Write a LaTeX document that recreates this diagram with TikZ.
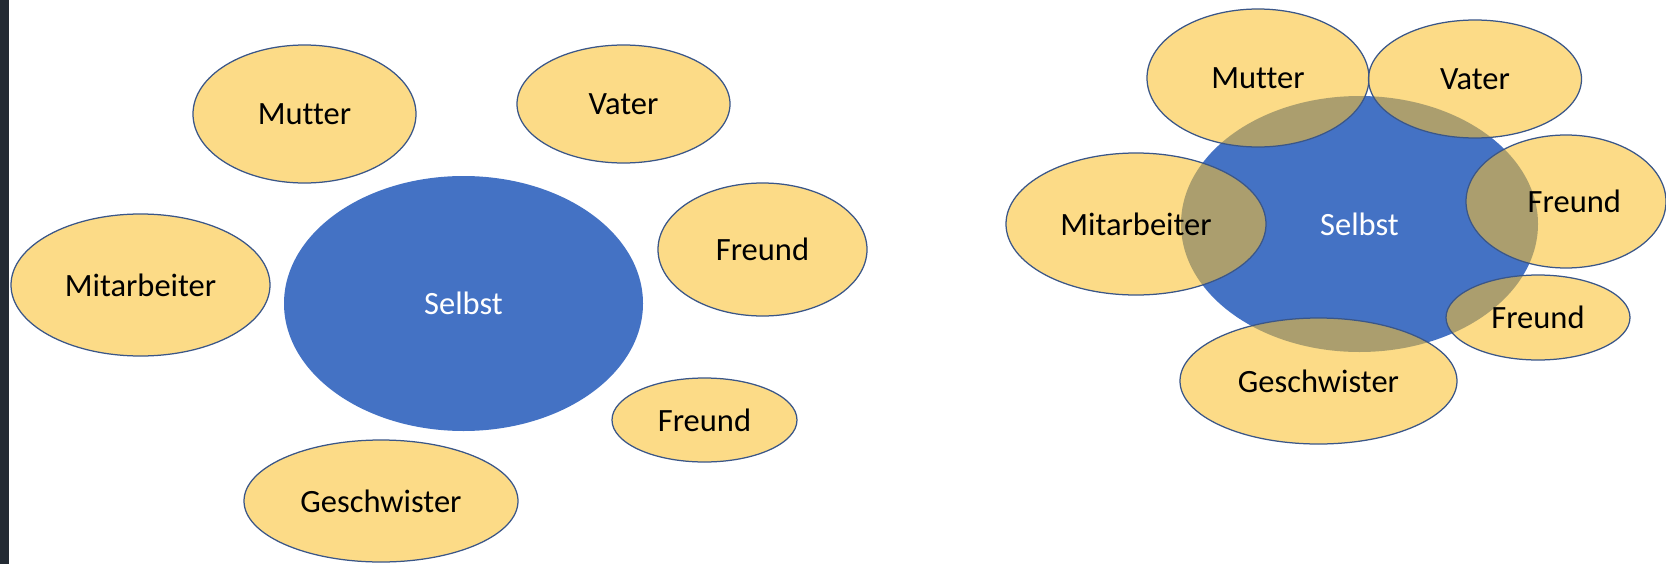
\documentclass[tikz,border=0pt]{standalone}
\usepackage{fontspec}
\setmainfont[Ligatures=NoCommon]{Carlito}
\usetikzlibrary{shapes.geometric}

\definecolor{selfblue}{HTML}{4472C4}
\definecolor{othergold}{RGB}{250,193,45}
\definecolor{rimblue}{HTML}{3A5688}
\definecolor{sidebar}{HTML}{232A33}

\begin{document}
\begin{tikzpicture}[x=0.6pt, y=-0.6pt,
    font=\fontsize{19.5}{22}\selectfont,
    oval/.style 2 args={ellipse, inner sep=0pt,
      minimum width=#1*0.6pt, minimum height=#2*0.6pt},
    self/.style={fill=selfblue, text=white},
    other/.style={fill=othergold, fill opacity=0.57, text opacity=1,
      draw=rimblue, draw opacity=1, line width=0.75pt, text=black}]
  % frame
  \fill[white] (0,0) rectangle (1666,564);
  \useasboundingbox (0,0) rectangle (1666,564);
  \fill[sidebar] (0,0) rectangle (8.7,564);

  % left: Selbst apart from the others
  \node[self, oval={359}{255}] (selbstL) at (463.5,303.5) {Selbst};
  \node[other, oval={223}{138}] (mutterL) at (304.5,114) {Mutter};
  \node[other, oval={213}{118}] (vaterL) at (623.5,104) {Vater};
  \node[other, oval={209}{133}] (freundAL) at (762.5,249.5) {Freund};
  \node[other, oval={259}{142}] (mitarbL) at (140.5,285) {Mitarbeiter};
  \node[other, oval={185}{84}] (freundBL) at (704.5,420) {Freund};
  \node[other, oval={274}{122}] (geschwL) at (381,501) {Geschwister};

  % right: the others overlap Selbst
  \node[self, oval={357}{256}] (selbstR) at (1359.5,224) {Selbst};
  \node[other, oval={222}{138}] (mutterR) at (1258,78) {Mutter};
  \node[other, oval={213}{118}] (vaterR) at (1475,79) {Vater};
  \node[other, oval={260}{142}] (mitarbR) at (1136,224) {Mitarbeiter};
  \node[other, oval={200}{133}] (freundAR) at (1566,201.5) {\hspace*{10pt}Freund};
  \node[other, oval={184}{85}] (freundBR) at (1538,317.5) {Freund};
  \node[other, oval={277}{126}] (geschwR) at (1318.5,381) {Geschwister};
\end{tikzpicture}
\end{document}
